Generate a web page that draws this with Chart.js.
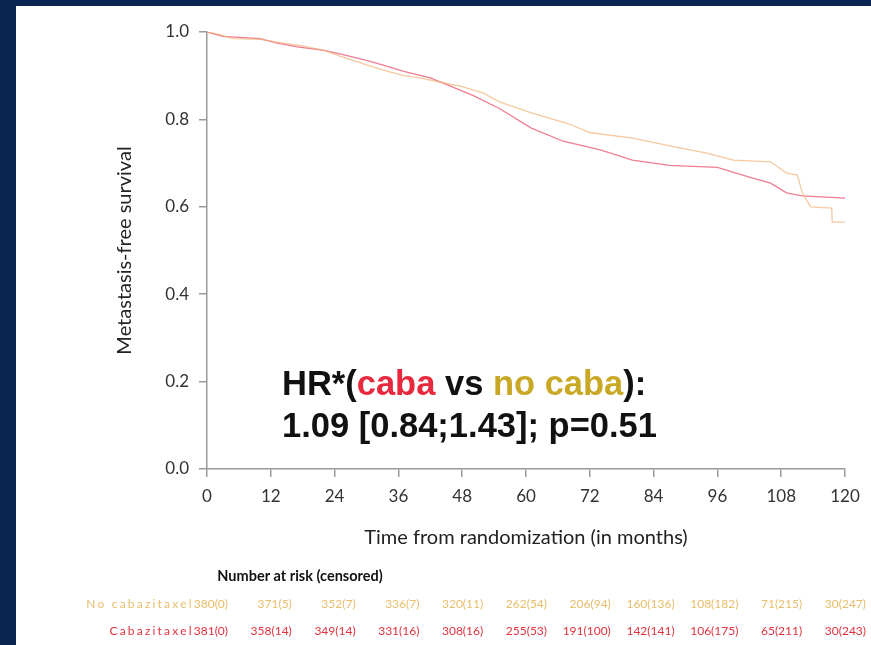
<!DOCTYPE html>
<html>
<head>
<meta charset="utf-8">
<script src="https://cdn.jsdelivr.net/npm/chart.js@4.4.1/dist/chart.umd.min.js"></script>
<style>
  html, body { margin: 0; padding: 0; }
  body { width: 871px; height: 645px; background: #0b2553; position: relative; overflow: hidden; }
  #panel { position: absolute; left: 16px; top: 6px; width: 855px; height: 639px; background: #fff; }
  #hr { position: absolute; left: 266px; top: 356px; font-family: "Liberation Sans", Arial, sans-serif;
        font-weight: bold; font-size: 34.5px; line-height: 42px; color: #111; white-space: nowrap; }
  .caba { color: #e8283c; }
  .nocaba { color: #c9a826; }
</style>
</head>
<body>
<div id="panel">
  <canvas id="km"></canvas>
  <div id="hr">HR*(<span class="caba">caba</span> vs <span class="nocaba">no caba</span>):<br>1.09 [0.84;1.43]; p=0.51</div>
</div>
<script>
// Kaplan-Meier estimates (months, survival)
const cabaMonths = [0, 3, 10, 13, 17, 22, 25, 30, 33, 37, 42, 46, 50, 55, 61, 67, 74, 80, 87, 96, 102, 106, 109, 112, 120];
const cabaSurv = [1.0, 0.99, 0.985, 0.975, 0.966, 0.958, 0.95, 0.935, 0.925, 0.91, 0.895, 0.875, 0.855, 0.825, 0.78, 0.75, 0.73, 0.707, 0.695, 0.69, 0.668, 0.654, 0.632, 0.625, 0.62];

const noCabaMonths = [0, 2, 5, 10, 14, 18, 22, 25, 30, 34, 37, 40, 44, 48, 52, 55, 61, 68, 72, 80, 88, 94, 99, 106, 109, 111, 112, 113.5, 117.5, 117.6, 120];
const noCabaSurv = [1.0, 0.995, 0.985, 0.983, 0.975, 0.968, 0.958, 0.945, 0.925, 0.91, 0.9, 0.895, 0.885, 0.875, 0.86, 0.84, 0.815, 0.79, 0.77, 0.757, 0.737, 0.723, 0.707, 0.703, 0.677, 0.673, 0.632, 0.6, 0.597, 0.565, 0.565];

// number at risk table
const riskMonths = [0, 12, 24, 36, 48, 60, 72, 84, 96, 108, 120];
const noCabaAtRisk = [380, 371, 352, 336, 320, 262, 206, 160, 108, 71, 30];
const noCabaCensored = [0, 5, 7, 7, 11, 54, 94, 136, 182, 215, 247];
const cabaAtRisk = [381, 358, 349, 331, 308, 255, 191, 142, 106, 65, 30];
const cabaCensored = [0, 14, 14, 16, 16, 53, 100, 141, 175, 211, 243];

const toPoints = (xs, ys) => xs.map((x, i) => ({ x: x, y: ys[i] }));

const fontFamily = 'Lato, "Open Sans", sans-serif';
const tickFont = { family: fontFamily, size: 17 };
const titleFont = { family: fontFamily, size: 20 };

const riskTablePlugin = {
  id: 'riskTable',
  afterDraw(chart) {
    const ctx = chart.ctx;
    const xs = chart.scales.x;
    const base = chart.chartArea.bottom;
    ctx.save();
    ctx.textBaseline = 'middle';
    ctx.font = 'bold 14.5px ' + fontFamily;
    ctx.fillStyle = '#111';
    ctx.textAlign = 'center';
    ctx.fillText('Number at risk (censored)', 284, base + 107);

    ctx.font = '12px ' + fontFamily;
    ctx.textAlign = 'right';
    const rows = [
      { label: 'No cabazitaxel', n: noCabaAtRisk, c: noCabaCensored, color: '#e8bd6c', dy: 135 },
      { label: 'Cabazitaxel', n: cabaAtRisk, c: cabaCensored, color: '#e2323f', dy: 162 }
    ];
    rows.forEach(r => {
      ctx.fillStyle = r.color;
      riskMonths.forEach((m, i) => {
        const px = xs.getPixelForValue(m) + 21;
        const txt = r.n[i] + '(' + r.c[i] + ')';
        ctx.fillText(txt, px, base + r.dy);
        if (i === 0) {
          const w = ctx.measureText(txt).width;
          ctx.letterSpacing = '2.2px';
          ctx.fillText(r.label, px - w, base + r.dy);
          ctx.letterSpacing = '0px';
        }
      });
    });
    ctx.restore();
  }
};

const ctx = document.getElementById('km').getContext('2d');
const kmChart = new Chart(ctx, {
  type: 'line',
  data: {
    datasets: [
      {
        label: 'No cabazitaxel',
        data: toPoints(noCabaMonths, noCabaSurv),
        borderColor: 'rgba(241, 178, 120, 0.7)',
        borderWidth: 1.3,
        tension: 0,
        pointRadius: 0,
        fill: false,
      },
      {
        label: 'Cabazitaxel',
        data: toPoints(cabaMonths, cabaSurv),
        borderColor: 'rgba(232, 70, 100, 0.7)',
        borderWidth: 1.3,
        tension: 0,
        pointRadius: 0,
        fill: false,
      },
    ],
  },
  options: {
    maintainAspectRatio: false,
    responsive: true,
    animation: false,
    layout: {
      padding: { top: 26, right: 26, bottom: 91, left: 0 },
    },
    plugins: {
      legend: { display: false },
      tooltip: { enabled: false },
    },
    scales: {
      x: {
        type: 'linear',
        min: 0,
        max: 120,
        afterFit: (scale) => { scale.height = 85; },
        ticks: { stepSize: 12, color: '#333', font: tickFont, padding: 9, maxRotation: 0 },
        grid: { display: true, drawOnChartArea: false, tickLength: 8, color: '#9a9a9a', lineWidth: 1.5 },
        border: { color: '#9a9a9a', width: 1.5 },
        title: {
          display: true,
          text: 'Time from randomization (in months)',
          color: '#222',
          font: titleFont,
          padding: { top: 4, bottom: 4 },
        },
      },
      y: {
        min: 0,
        max: 1,
        afterFit: (scale) => { scale.width = 191; },
        ticks: {
          stepSize: 0.2,
          color: '#333',
          font: tickFont,
          padding: 10,
          callback: (v) => v.toFixed(1),
        },
        grid: { display: true, drawOnChartArea: false, tickLength: 8, color: '#9a9a9a', lineWidth: 1.5 },
        border: { color: '#9a9a9a', width: 1.5 },
        title: {
          display: true,
          text: 'Metastasis-free survival',
          color: '#222',
          font: titleFont,
          padding: { top: 97, bottom: 0 },
        },
      },
    },
  },
  plugins: [riskTablePlugin],
});
</script>
</body>
</html>
